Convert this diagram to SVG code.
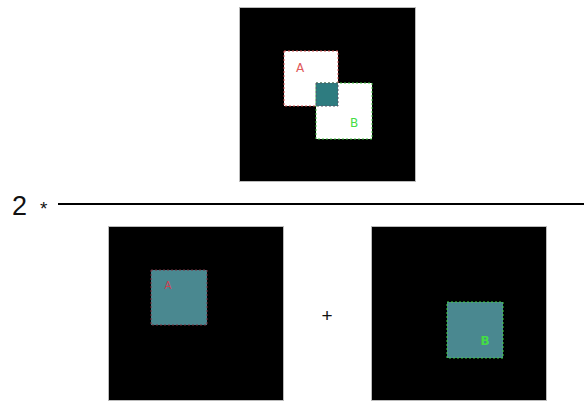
<svg xmlns="http://www.w3.org/2000/svg" width="584" height="401" viewBox="0 0 584 401">
<style>
.panel{fill:#000;stroke:#bbb;stroke-width:1}
.lblA{font-family:"DejaVu Sans",sans-serif;font-size:12px;fill:#e05a5a;text-anchor:middle}
.lblB{font-family:"DejaVu Sans",sans-serif;font-size:12px;fill:#44dd44;text-anchor:middle}
.teal{fill:#4a8890}
.op{font-family:"Liberation Sans",Arial,sans-serif;fill:#111}
</style>
<rect width="584" height="401" fill="#fff"/>
<g id="top">
  <rect class="panel" x="239.5" y="7.5" width="176" height="174"/>
  <rect x="284" y="51" width="54" height="55" fill="#fff" stroke="#d05050" stroke-width="1" stroke-dasharray="2,2"/>
  <rect x="316" y="83" width="56" height="56" fill="#fff" stroke="#40c040" stroke-width="1" stroke-dasharray="2,2"/>
  <rect x="316" y="83" width="22" height="23" fill="#2e7c80" stroke="#556" stroke-width="1" stroke-dasharray="2,2"/>
  <text class="lblA" x="300" y="72">A</text>
  <text class="lblB" x="354" y="127">B</text>
</g>
<g id="fraction">
  <text class="op" x="12" y="215" font-size="27">2</text>
  <text class="op" x="40" y="215" font-size="19">*</text>
  <line x1="58" y1="204" x2="584" y2="204" stroke="#000" stroke-width="2"/>
</g>
<g id="bottomA">
  <rect class="panel" x="108.5" y="226.5" width="175" height="174"/>
  <rect class="teal" x="151" y="270" width="56" height="55" stroke="#7a3040" stroke-width="1" stroke-dasharray="2,2"/>
  <text class="lblA" x="168" y="289" style="font-size:10px;fill:#d04050">A</text>
</g>
<g id="plus">
  <text class="op" x="327" y="322" font-size="19" text-anchor="middle">+</text>
</g>
<g id="bottomB">
  <rect class="panel" x="371.5" y="226.5" width="175" height="174"/>
  <rect class="teal" x="447" y="302" width="56" height="56" stroke="#40d040" stroke-width="1" stroke-dasharray="2,2"/>
  <text class="lblB" x="485" y="345" style="font-weight:bold">B</text>
</g>
</svg>
